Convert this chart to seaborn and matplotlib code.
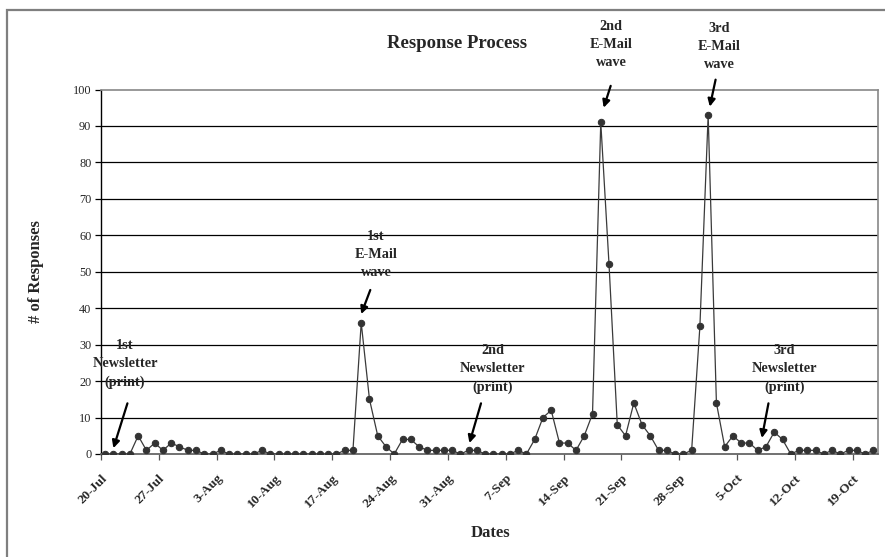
import matplotlib
matplotlib.use("Agg")
import matplotlib.pyplot as plt
import seaborn as sns
import pandas as pd
from matplotlib.patches import Rectangle

# ---- data ----
start_date = "2004-07-20"
n_days = 94
responses = [0, 0, 0, 0, 5, 1, 3, 1, 3, 2, 1, 1, 0, 0, 1, 0, 0, 0, 0, 1, 0, 0, 0,
             0, 0, 0, 0, 0, 0,
             1, 1, 36, 15, 5, 2, 0, 4, 4, 2, 1, 1, 1, 1, 0, 1, 1,
             0, 0, 0, 0, 1, 0, 4, 10, 12, 3, 3, 1, 5, 11, 91, 52, 8, 5, 14, 8, 5, 1, 1,
             0, 0, 1, 35, 93, 14, 2, 5, 3, 3, 1, 2, 6, 4, 0, 1, 1, 1, 0, 1, 0, 1, 1, 0, 1]
tick_labels = ["20-Jul", "27-Jul", "3-Aug", "10-Aug", "17-Aug", "24-Aug", "31-Aug",
               "7-Sep", "14-Sep", "21-Sep", "28-Sep", "5-Oct", "12-Oct", "19-Oct"]
y_ticks = [0, 10, 20, 30, 40, 50, 60, 70, 80, 90, 100]

# annotations: text, text centre (x, y), arrow tail, arrow head (data units)
annotations = [
    ("1st\nNewsletter\n(print)", (2.4, 24.7), (2.7, 13.9), (1.0, 1.6)),
    ("1st\nE-Mail\nwave", (32.8, 54.7), (32.1, 45.0), (31.0, 38.4)),
    ("2nd\nNewsletter\n(print)", (46.9, 23.4), (45.5, 13.9), (44.1, 3.0)),
    ("2nd\nE-Mail\nwave", (61.25, 112.4), (61.2, 101.0), (60.35, 95.0)),
    ("3rd\nE-Mail\nwave", (74.3, 111.8), (73.9, 102.7), (73.2, 95.3)),
    ("3rd\nNewsletter\n(print)", (82.2, 23.4), (80.3, 13.9), (79.5, 4.4)),
]

dates = pd.date_range(start_date, periods=n_days, freq="D")
df = pd.DataFrame({"idx": range(n_days), "date": dates, "responses": responses})

sns.set_theme(style="white")
plt.rcParams["font.family"] = ["Liberation Serif", "DejaVu Serif"]

W, H = 885, 557
fig = plt.figure(figsize=(W / 100, H / 100), dpi=100)
fig.patch.set_facecolor("white")

# outer chart border
fig.patches.append(Rectangle((7 / W, -0.05), (W + 20) / W, 1 - 10 / H + 0.05,
                             transform=fig.transFigure, fill=False,
                             edgecolor="#7f7f7f", linewidth=1.6, zorder=0))

left, right = 101 / W, 877.5 / W
bottom, top = 1 - 454 / H, 1 - 89.5 / H
ax = fig.add_axes([left, bottom, right - left, top - bottom])

# grid lines
for yv in y_ticks[1:-1]:
    ax.axhline(yv, color="black", linewidth=0.9, zorder=1)

sns.lineplot(data=df, x="idx", y="responses", ax=ax, color="#3a3a3a",
             linewidth=0.9, marker="o", markersize=4.6,
             markerfacecolor="#333333", markeredgecolor="#333333", zorder=3)

ax.set_xlim(-0.5, n_days - 0.5)
ax.set_ylim(0, 100)

ax.set_yticks(y_ticks)
ax.set_yticklabels([str(v) for v in y_ticks], fontsize=8.8)
ax.tick_params(axis="y", direction="out", length=4, width=0.9, pad=3,
               left=True, color="black")

xt = [i * 7 - 0.5 for i in range(len(tick_labels))]
ax.set_xticks(xt)
ax.set_xticklabels(tick_labels, rotation=45, ha="right", va="top",
                   rotation_mode="anchor", fontsize=9.6, fontweight="bold")
ax.tick_params(axis="x", direction="out", length=4, width=0.9, pad=9,
               bottom=True, color="#555555")

for s in ["top", "right"]:
    ax.spines[s].set_color("#888888")
    ax.spines[s].set_linewidth(1.2)
ax.spines["left"].set_color("black")
ax.spines["left"].set_linewidth(1.0)
ax.spines["bottom"].set_color("#666666")
ax.spines["bottom"].set_linewidth(1.3)

ax.set_xlabel("")
ax.set_ylabel("")
fig.text(490 / W, 1 - 533 / H, "Dates", ha="center", va="center",
         fontsize=12, fontweight="bold")
fig.text(36 / W, 1 - 272 / H, "# of Responses", ha="center", va="center",
         rotation=90, fontsize=12, fontweight="bold")
fig.text(457 / W, 1 - 44 / H, "Response Process", ha="center", va="center",
         fontsize=13.5, fontweight="bold")

for txt, tpos, tail, head in annotations:
    ax.text(tpos[0], tpos[1], txt, ha="center", va="center", fontsize=10.3,
            fontweight="bold", linespacing=1.5, clip_on=False, zorder=5)
    ax.annotate("", xy=head, xytext=tail, annotation_clip=False,
                arrowprops=dict(arrowstyle="-|>", color="black", lw=1.6,
                                mutation_scale=11, shrinkA=0, shrinkB=0),
                zorder=5)

fig.savefig("out.png", dpi=100, facecolor="white")
